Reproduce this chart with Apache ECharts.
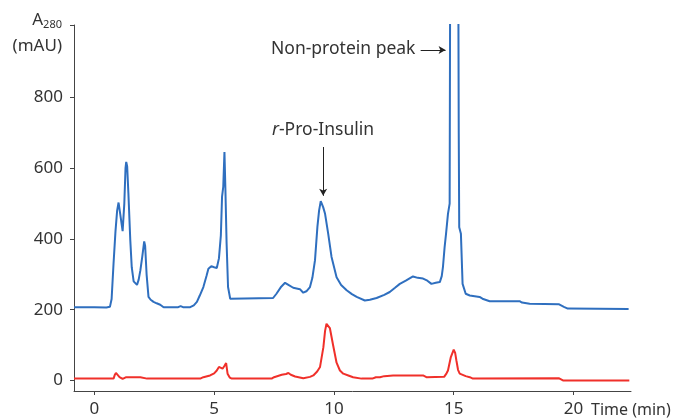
<!DOCTYPE html>
<html>
<head>
<meta charset="utf-8">
<script src="https://cdn.jsdelivr.net/npm/echarts@6/dist/echarts.min.js"></script>
<style>html,body{margin:0;padding:0;background:#fff;}#c{width:678px;height:420px;}</style>
</head>
<body>
<div id="c"></div>
<script>
// Time (min) and absorbance (mAU)
const blueTime = [-0.85,0.0,0.5,0.65,0.72,0.8,0.88,0.95,1.01,1.08,1.18,1.25,1.3,1.33,1.37,1.42,1.5,1.56,1.64,1.78,1.85,1.92,2.0,2.08,2.12,2.18,2.26,2.35,2.47,2.6,2.75,2.89,3.5,3.6,3.7,4.0,4.15,4.28,4.4,4.55,4.68,4.76,4.88,5.0,5.11,5.2,5.28,5.33,5.38,5.43,5.47,5.52,5.58,5.67,7.46,7.6,7.8,7.96,8.1,8.3,8.58,8.72,8.85,9.0,9.1,9.21,9.31,9.38,9.45,9.55,9.63,9.76,9.9,10.11,10.3,10.53,10.75,10.95,11.29,11.5,11.78,12.1,12.33,12.55,12.75,13.0,13.3,13.5,13.72,13.9,14.07,14.25,14.42,14.5,14.55,14.62,14.68,14.76,14.83,14.86,15.18,15.21,15.23,15.3,15.37,15.5,15.67,16.08,16.2,16.5,17.75,17.85,18.17,19.4,19.6,19.76,22.3];
const blueAbs  = [207,207,206,208,230,330,420,480,503,470,422,500,600,618,605,530,396,320,280,270,285,311,350,393,380,300,236,228,222,218,214,207,207,210,207,207,212,222,240,264,295,316,323,320,318,345,410,520,547,646,540,387,264,231,233,245,265,276,270,262,258,248,252,264,290,340,434,480,507,490,471,415,349,292,270,255,244,236,226,228,233,242,250,262,273,282,294,290,288,282,273,276,278,295,320,377,415,471,500,1400,1400,700,433,415,273,245,240,236,231,224,224,220,217,215,208,203,202];
const redTime  = [-0.85,0.8,0.85,0.9,0.98,1.05,1.18,1.25,1.33,1.92,2.2,4.42,4.55,4.83,5.0,5.11,5.2,5.28,5.35,5.42,5.5,5.56,5.65,5.74,7.4,7.5,7.82,8.0,8.1,8.2,8.38,8.72,9.0,9.14,9.3,9.42,9.56,9.63,9.69,9.76,9.83,9.97,10.11,10.25,10.39,10.6,10.8,11.15,11.6,11.75,11.92,12.1,12.47,13.72,13.86,14.6,14.7,14.76,14.88,15.0,15.06,15.11,15.18,15.25,15.5,15.67,15.8,19.4,19.56,22.33];
const redAbs   = [5,5,15,21,17,9,4,3,9,9,5,5,9,14,20,28,38,36,33,40,49,19,8,5,5,9,16,18,21,16,11,6,10,14,25,38,94,140,160,158,148,98,50,28,19,14,9,5,5,9,9,12,14,14,9,10,20,28,66,87,78,57,30,19,12,9,5,6,0,0];
const xTicks = [0,5,10,15,20];
const yTicks = [0,200,400,600,800];

const pair = (t, v) => t.map((x, i) => [x, v[i]]);
const FONT = 'Noto Sans';
const TXT = '#333';

const chart = echarts.init(document.getElementById('c'), null, {renderer: 'canvas'});
chart.setOption({
  animation: false,
  grid: {left: 74, right: 47, top: 25, bottom: 29},
  xAxis: {
    type: 'value', min: -0.85, max: 22.4,
    axisLine: {onZero: false, lineStyle: {color: '#444', width: 1}},
    axisTick: {customValues: xTicks, length: 4, lineStyle: {color: '#444'}},
    axisLabel: {customValues: xTicks, color: TXT, fontFamily: FONT, fontSize: 17, margin: 10},
    splitLine: {show: false}
  },
  yAxis: {
    type: 'value', min: -30, max: 1005,
    axisLine: {show: true, onZero: false, lineStyle: {color: '#444', width: 1}},
    axisTick: {show: true, customValues: yTicks.concat([1005]), length: 4, lineStyle: {color: '#444'}},
    axisLabel: {customValues: yTicks, color: TXT, fontFamily: FONT, fontSize: 17, margin: 11},
    splitLine: {show: false}
  },
  series: [
    {
      type: 'line', data: pair(blueTime, blueAbs), showSymbol: false, symbol: 'none',
      lineStyle: {color: '#2f6fbf', width: 2}, clip: true,
      markLine: {
        silent: true, symbol: ['none', 'arrow'], symbolSize: [6, 7],
        lineStyle: {color: '#222', width: 1, type: 'solid'}, label: {show: false},
        data: [
          [{coord: [13.62, 934]}, {coord: [14.66, 934]}],
          [{coord: [9.55, 660]}, {coord: [9.55, 522]}]
        ]
      }
    },
    {
      type: 'line', data: pair(redTime, redAbs), showSymbol: false, symbol: 'none',
      lineStyle: {color: '#f0302a', width: 2}, clip: true
    }
  ],
  graphic: [
    {type: 'text', left: 271, top: 40, style: {text: 'Non-protein peak', fill: TXT, font: '17.5px "' + FONT + '"'}},
    {type: 'text', left: 272, top: 121, style: {
      text: '{i|r}-Pro-Insulin', fill: TXT, font: '17.5px "' + FONT + '"',
      rich: {i: {fontStyle: 'italic', fontFamily: FONT, fontSize: 17.5, fill: TXT}}
    }},
    {type: 'text', right: 616, top: 12, style: {
      text: 'A{s|280}', fill: TXT, font: '17px "' + FONT + '"', align: 'right',
      rich: {s: {fontFamily: FONT, fontSize: 11, verticalAlign: 'bottom', padding: [8, 0, 0, 0], fill: TXT}}
    }},
    {type: 'text', right: 616, top: 38, style: {text: '(mAU)', fill: TXT, font: '17px "' + FONT + '"', align: 'right'}},
    {type: 'text', left: 591, top: 402, style: {text: 'Time (min)', fill: TXT, font: '16px "' + FONT + '"'}}
  ]
});
</script>
</body>
</html>
